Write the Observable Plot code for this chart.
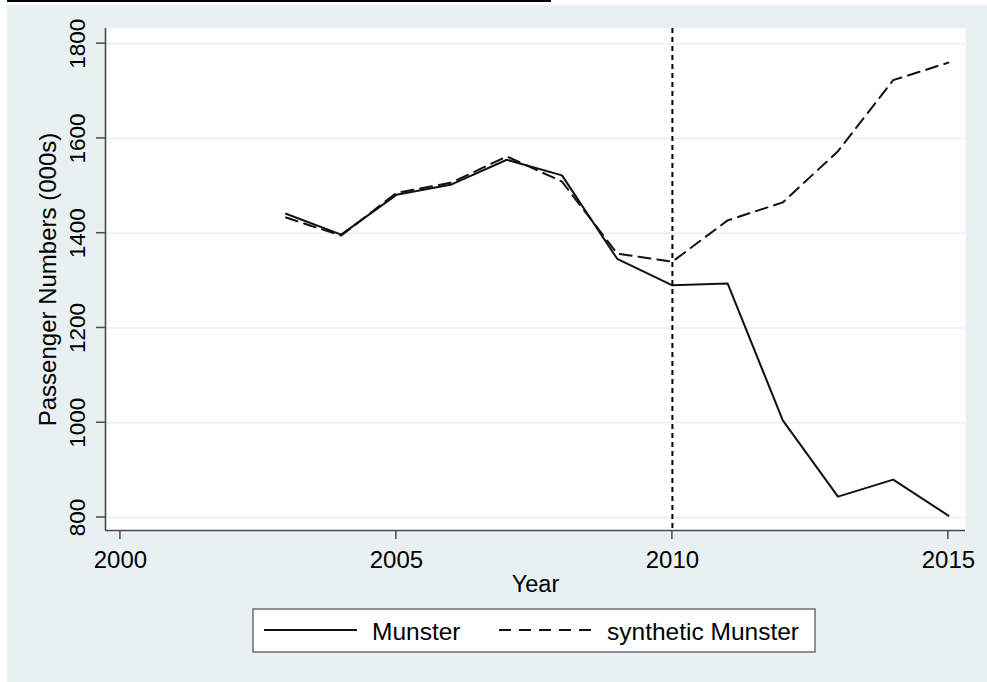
<!DOCTYPE html>
<html>
<head>
<meta charset="utf-8">
<script src="https://cdn.jsdelivr.net/npm/d3@7"></script>
<script src="https://cdn.jsdelivr.net/npm/@observablehq/plot@0.6"></script>
<style>
  html, body { margin: 0; padding: 0; background: #ffffff; }
  body { width: 987px; height: 682px; position: relative; overflow: hidden; font-family: "Liberation Sans", Arial, sans-serif; }
  #bg { position: absolute; left: 7px; top: 5px; width: 980px; height: 677px; background: #e9f0f2; }
  #topline { position: absolute; left: 7px; top: 0px; width: 544px; height: 2px; background: #000; }
  #chart { position: absolute; left: 0; top: 0; }
  #legend { position: absolute; left: 252px; top: 608px; }
</style>
</head>
<body>
<div id="bg"></div>
<div id="topline"></div>
<div id="chart"></div>
<div id="legend"></div>
<script>
const years = [2003, 2004, 2005, 2006, 2007, 2008, 2009, 2010, 2011, 2012, 2013, 2014, 2015];
const munster = [1441, 1397, 1481, 1503, 1555, 1522, 1346, 1290, 1294, 1005, 844, 880, 804];
const synthetic = [1433, 1395, 1485, 1507, 1562, 1509, 1357, 1340, 1427, 1465, 1573, 1723, 1760];
const seriesNames = ["Munster", "synthetic Munster"];
const xTicks = [2000, 2005, 2010, 2015];
const yTicks = [800, 1000, 1200, 1400, 1600, 1800];
const treatmentYear = [2010];
const xLabel = "Year";
const yLabel = "Passenger Numbers (000s)";

const rows = [];
years.forEach((y, i) => {
  rows.push({year: y, value: munster[i], series: seriesNames[0]});
  rows.push({year: y, value: synthetic[i], series: seriesNames[1]});
});

const xDomain = [1999.73, 2015.31];
const yDomain = [772.6, 1832];
const font = "Liberation Sans, Arial, sans-serif";

const chart = Plot.plot({
  width: 987,
  height: 600,
  marginLeft: 105,
  marginRight: 22,
  marginTop: 28,
  marginBottom: 70,
  style: {background: "transparent", fontFamily: font, color: "#000"},
  x: {type: "linear", domain: xDomain, axis: null},
  y: {type: "linear", domain: yDomain, axis: null},
  marks: [
    Plot.frame({fill: "white", stroke: null}),
    Plot.gridY(yTicks, {stroke: "#e7eff2", strokeOpacity: 1, strokeWidth: 1.5}),
    Plot.ruleX(treatmentYear, {stroke: "#000", strokeWidth: 2, strokeDasharray: "5,4"}),
    Plot.line(rows.filter(d => d.series === seriesNames[1]), {x: "year", y: "value", stroke: "#111", strokeWidth: 2, strokeDasharray: "12,7"}),
    Plot.line(rows.filter(d => d.series === seriesNames[0]), {x: "year", y: "value", stroke: "#111", strokeWidth: 2}),
    Plot.ruleX([xDomain[0]], {stroke: "#4a4a4a", strokeWidth: 1.6}),
    Plot.ruleY([yDomain[0]], {stroke: "#4a4a4a", strokeWidth: 1.6}),
    Plot.text(yTicks, {x: xDomain[0], y: d => d, text: d => String(d), rotate: -90, dx: -28, fontSize: 22.5, textAnchor: "middle", lineAnchor: "middle", fill: "#000"}),
    Plot.text(xTicks, {x: d => d, y: yDomain[0], text: d => String(d), dy: 30, fontSize: 24, textAnchor: "middle", lineAnchor: "middle", fill: "#000"}),
    Plot.text([xLabel], {frameAnchor: "bottom", dy: 54, fontSize: 23.5, text: d => d, textAnchor: "middle", lineAnchor: "middle", fill: "#000"}),
    Plot.text([yLabel], {frameAnchor: "left", dx: -57, rotate: -90, fontSize: 24, text: d => d, textAnchor: "middle", lineAnchor: "middle", fill: "#000"})
  ]
});
document.getElementById("chart").appendChild(chart);

// Tick marks positioned with the chart's own scales
const sx = chart.scale("x"), sy = chart.scale("y");
const svg = d3.select(chart);
const tg = svg.append("g").attr("stroke", "#4a4a4a").attr("stroke-width", 1.5);
const x0 = sx.apply(xDomain[0]), y0 = sy.apply(yDomain[0]);
xTicks.forEach(t => tg.append("line").attr("x1", sx.apply(t)).attr("x2", sx.apply(t)).attr("y1", y0).attr("y2", y0 + 9));
yTicks.forEach(t => tg.append("line").attr("x1", x0 - 9).attr("x2", x0).attr("y1", sy.apply(t)).attr("y2", sy.apply(t)));

// Legend
const lg = d3.select("#legend").append("svg").attr("width", 566).attr("height", 47);
lg.append("rect").attr("x", 1).attr("y", 1).attr("width", 562).attr("height", 43)
  .attr("fill", "white").attr("stroke", "#777").attr("stroke-width", 1.6);
const items = [
  {name: seriesNames[0], x1: 12, x2: 105, tx: 120, dash: null},
  {name: seriesNames[1], x1: 247, x2: 339, tx: 355, dash: "12,8"}
];
items.forEach(it => {
  const l = lg.append("line").attr("x1", it.x1).attr("x2", it.x2).attr("y1", 22).attr("y2", 22)
    .attr("stroke", "#111").attr("stroke-width", 2);
  if (it.dash) l.attr("stroke-dasharray", it.dash);
  lg.append("text").attr("x", it.tx).attr("y", 23).attr("dy", "0.35em")
    .attr("font-family", font).attr("font-size", 24.5).attr("fill", "#000").text(it.name);
});
</script>
</body>
</html>
